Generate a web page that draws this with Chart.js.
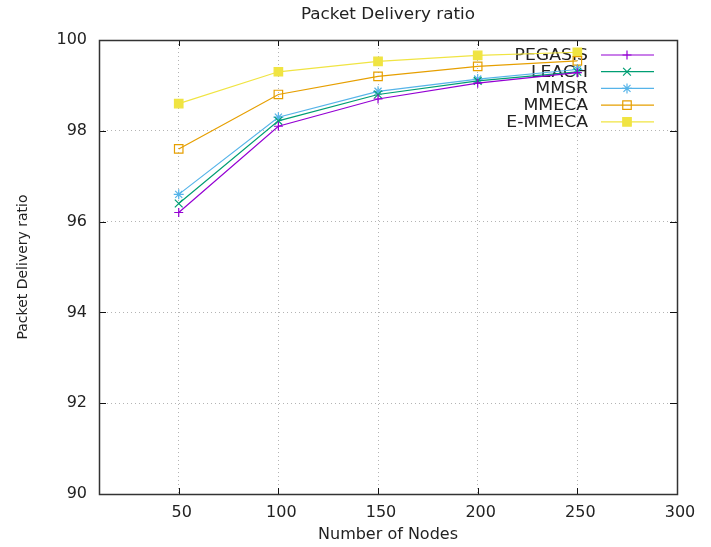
<!DOCTYPE html>
<html>
<head>
<meta charset="utf-8">
<script src="https://cdn.jsdelivr.net/npm/chart.js@4.4.0/dist/chart.umd.min.js"></script>
<style>
  body { margin: 0; background: #fff; }
  #wrap { width: 711px; height: 547px; }
</style>
</head>
<body>
<div id="wrap"><canvas id="grafico" width="711" height="547"></canvas></div>
<script>
// dados
const nodes = [50, 100, 150, 200, 250];
const xTicks = [50, 100, 150, 200, 250, 300];
const pegasis = [96.2, 98.1, 98.7, 99.05, 99.28];
const leach = [96.4, 98.22, 98.8, 99.1, 99.3];
const mmsr = [96.6, 98.3, 98.87, 99.14, 99.35];
const mmeca = [97.6, 98.8, 99.2, 99.42, 99.54];
const emmeca = [98.6, 99.3, 99.53, 99.66, 99.73];

const FONT = "'DejaVu Sans', sans-serif";

const toPoints = (vals) => vals.map((v, i) => ({ x: nodes[i], y: v }));

const serie = (label, vals, color, style, radius, fill) => ({
    label: label,
    data: toPoints(vals),
    borderColor: color,
    backgroundColor: color,
    borderWidth: 1.2,
    pointStyle: style,
    pointRadius: radius,
    pointBorderColor: color,
    pointBorderWidth: 1.2,
    pointBackgroundColor: fill ? color : 'rgba(0,0,0,0)',
    fill: false,
    tension: 0
});

// moldura, ticks internos, título e legenda ao estilo gnuplot
const estiloGnuplot = {
    id: 'estiloGnuplot',
    beforeDatasetsDraw(chart) {
        const ctx = chart.ctx;
        const a = chart.chartArea;
        const sx = chart.scales.x;
        const sy = chart.scales.y;
        ctx.save();

        // ticks para dentro
        ctx.strokeStyle = '#111';
        ctx.lineWidth = 1;
        ctx.beginPath();
        sx.ticks.forEach(t => {
            const px = Math.round(sx.getPixelForValue(t.value)) + 0.5;
            ctx.moveTo(px, a.bottom); ctx.lineTo(px, a.bottom - 6);
            ctx.moveTo(px, a.top); ctx.lineTo(px, a.top + 6);
        });
        sy.ticks.forEach(t => {
            const py = Math.round(sy.getPixelForValue(t.value)) + 0.5;
            ctx.moveTo(a.left, py); ctx.lineTo(a.left + 7, py);
            ctx.moveTo(a.right, py); ctx.lineTo(a.right - 7, py);
        });
        ctx.stroke();

        // moldura
        ctx.strokeStyle = '#333';
        ctx.lineWidth = 1.5;
        ctx.strokeRect(a.left + 0.5, a.top + 0.5, a.right - a.left, a.bottom - a.top);

        // título
        ctx.fillStyle = '#222';
        ctx.font = '15px ' + FONT;
        ctx.textAlign = 'center';
        ctx.textBaseline = 'middle';
        ctx.save();
        ctx.translate((a.left + a.right) / 2, 15);
        ctx.scale(1.12, 1);
        ctx.fillText('Packet Delivery ratio', 0, 0);
        ctx.restore();

        // legenda
        ctx.font = '15px ' + FONT;
        ctx.textAlign = 'right';
        chart.data.datasets.forEach((ds, i) => {
            const y = a.top + 15 + i * 16.7;
            ctx.save();
            ctx.translate(a.right - 89, y);
            ctx.scale(1.15, 1);
            ctx.fillStyle = '#222';
            ctx.fillText(ds.label, 0, 1);
            ctx.restore();

            ctx.strokeStyle = ds.borderColor;
            ctx.lineWidth = 1.2;
            ctx.beginPath();
            ctx.moveTo(a.right - 76, y);
            ctx.lineTo(a.right - 23, y);
            ctx.stroke();

            ctx.fillStyle = ds.pointBackgroundColor;
            ctx.strokeStyle = ds.pointBorderColor;
            ctx.lineWidth = ds.pointBorderWidth;
            Chart.helpers.drawPoint(ctx, {
                pointStyle: ds.pointStyle,
                radius: ds.pointRadius,
                rotation: 0,
                borderWidth: ds.pointBorderWidth
            }, a.right - 50, y);
        });
        ctx.restore();
    }
};

new Chart(document.getElementById('grafico'), {
    type: 'line',
    data: {
        datasets: [
            serie('PEGASIS', pegasis, '#9400d3', 'cross', 4.5, false),
            serie('LEACH', leach, '#009e73', 'crossRot', 5.5, false),
            serie('MMSR', mmsr, '#56b4e9', 'star', 5, false),
            serie('MMECA', mmeca, '#e69f00', 'rect', 6, false),
            serie('E-MMECA', emmeca, '#f0e442', 'rect', 6, true)
        ]
    },
    options: {
        responsive: false,
        animation: false,
        devicePixelRatio: 1,
        layout: {
            padding: { top: 40, right: 34, bottom: 0, left: 0 }
        },
        scales: {
            x: {
                type: 'linear',
                min: 10,
                max: 300,
                afterBuildTicks: (scale) => {
                    scale.ticks = xTicks.map(v => ({ value: v }));
                },
                afterFit: (scale) => { scale.height = 53; },
                grid: { color: '#b4b4b4', lineWidth: 1, drawTicks: false, borderDash: [1, 3] },
                border: { display: false, dash: [1, 3] },
                ticks: {
                    color: '#222',
                    padding: 9,
                    labelOffset: 3,
                    maxRotation: 0,
                    font: { size: 16, family: FONT }
                },
                title: {
                    display: true,
                    text: 'Number of Nodes',
                    color: '#222',
                    padding: { top: 0, bottom: 3 },
                    font: { size: 16, family: FONT }
                }
            },
            y: {
                min: 90,
                max: 100,
                afterFit: (scale) => { scale.width = 99; },
                grid: { color: '#b4b4b4', lineWidth: 1, drawTicks: false, borderDash: [1, 3] },
                border: { display: false, dash: [1, 3] },
                ticks: {
                    stepSize: 2,
                    color: '#222',
                    padding: 12,
                    font: { size: 16, family: FONT }
                },
                title: {
                    display: true,
                    text: 'Packet Delivery ratio',
                    color: '#222',
                    padding: { top: 15, bottom: 0 },
                    font: { size: 14, family: FONT }
                }
            }
        },
        plugins: {
            legend: { display: false },
            tooltip: { enabled: false }
        }
    },
    plugins: [estiloGnuplot]
});
</script>
</body>
</html>
